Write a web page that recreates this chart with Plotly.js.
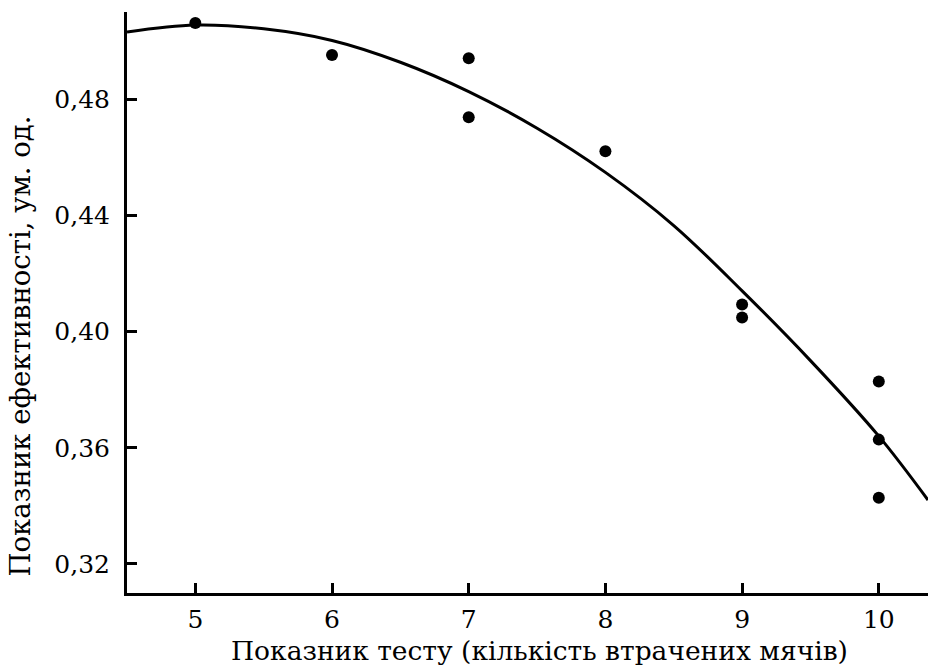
<!DOCTYPE html>
<html>
<head>
<meta charset="utf-8">
<script src="https://cdn.plot.ly/plotly-3.0.1.min.js"></script>
<style>html,body{margin:0;padding:0;background:#fff;}#chart{width:928px;height:666px;}</style>
</head>
<body>
<div id="chart"></div>
<script>
// Observed data points
const testScores = [5, 6, 7, 7, 8, 9, 9, 10, 10, 10];
const efficiency = [0.5062, 0.4952, 0.4941, 0.4738, 0.4621, 0.4093, 0.4048, 0.3828, 0.3628, 0.3428];

// Trend curve
const trendX = [4.5, 5.0, 5.5, 6.0, 6.5, 7.0, 7.5, 8.0, 8.5, 9.0, 9.5, 10.0, 10.36];
const trendY = [0.5031, 0.5055, 0.5042, 0.5002, 0.4927, 0.4826, 0.4700, 0.4548, 0.4365, 0.4140, 0.3900, 0.3640, 0.3420];

// Tick labels
const xTickVals = [5, 6, 7, 8, 9, 10];
const xTickText = ['5', '6', '7', '8', '9', '10'];
const yTickVals = [0.32, 0.36, 0.40, 0.44, 0.48];
const yTickText = ['0,32', '0,36', '0,40', '0,44', '0,48'];

const xTitle = 'Показник тесту (кількість втрачених мячів)';
const yTitle = 'Показник ефективності, ум. од.';

const FONT = 'DejaVu Serif';

const traces = [
  {
    x: trendX, y: trendY, type: 'scatter', mode: 'lines',
    line: {color: '#000', width: 3, shape: 'spline', smoothing: 1},
    hoverinfo: 'skip', showlegend: false
  },
  {
    x: testScores, y: efficiency, type: 'scatter', mode: 'markers',
    marker: {color: '#000', size: 12}, showlegend: false
  }
];

const layout = {
  width: 928, height: 666,
  margin: {l: 127, r: 0, t: 12, b: 73},
  paper_bgcolor: '#fff', plot_bgcolor: '#fff',
  font: {family: FONT, color: '#000', size: 25},
  showlegend: false,
  xaxis: {
    range: [4.5, 10.36],
    tickvals: xTickVals, ticktext: xTickText,
    ticks: 'inside', ticklen: 10, tickwidth: 3, tickcolor: '#000',
    showline: true, linewidth: 3, linecolor: '#000', mirror: false,
    showgrid: false, zeroline: false,
    tickfont: {family: FONT, size: 25, color: '#000'},
    ticklabelstandoff: 2,
    automargin: false
  },
  yaxis: {
    range: [0.31, 0.51],
    tickvals: yTickVals, ticktext: yTickText,
    ticks: 'inside', ticklen: 10, tickwidth: 3, tickcolor: '#000',
    showline: true, linewidth: 3, linecolor: '#000', mirror: false,
    showgrid: false, zeroline: false,
    tickfont: {family: FONT, size: 25, color: '#000'},
    ticklabelstandoff: 9,
    automargin: false
  },
  annotations: [
    {
      text: yTitle, textangle: -90,
      xref: 'paper', yref: 'paper',
      x: -0.133, y: 0.425, xanchor: 'center', yanchor: 'middle',
      showarrow: false,
      font: {family: FONT, size: 27.5, color: '#000'}
    },
    {
      text: xTitle,
      xref: 'paper', yref: 'paper',
      x: 0.515, y: -0.099, xanchor: 'center', yanchor: 'middle',
      showarrow: false,
      font: {family: FONT, size: 26.5, color: '#000'}
    }
  ]
};

Plotly.newPlot('chart', traces, layout, {displayModeBar: false, staticPlot: true});
</script>
</body>
</html>
